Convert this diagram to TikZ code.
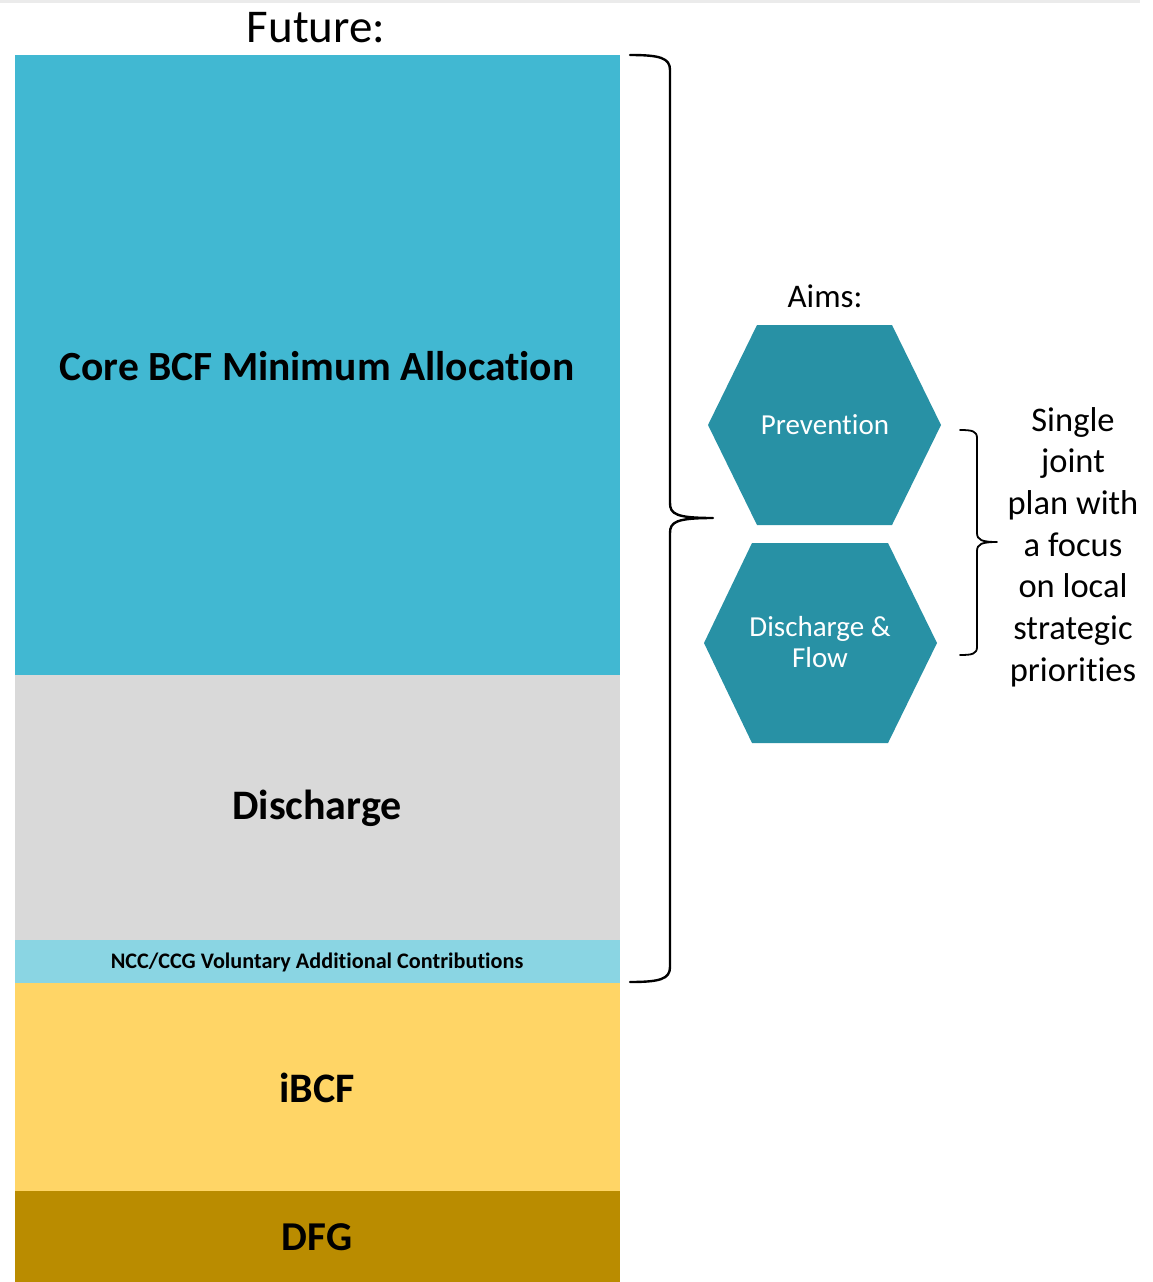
\documentclass[tikz,border=0pt]{standalone}
\usepackage{fontspec}
\setmainfont{Carlito}[Ligatures=NoCommon]
\definecolor{coreblue}{HTML}{41B8D2}
\definecolor{discgray}{HTML}{D9D9D9}
\definecolor{nccblue}{HTML}{8AD5E3}
\definecolor{ibcfyel}{HTML}{FFD566}
\definecolor{dfggold}{HTML}{BA8C00}
\definecolor{hexteal}{HTML}{2891A5}
\definecolor{shadowgray}{HTML}{EBEBEB}
\tikzset{
  bandlabel/.style={text=black, inner sep=0pt},
  hexlabel/.style={text=white, align=center, font=\fontsize{29}{31}\selectfont, inner sep=0pt},
  bracepath/.style={draw=black, line width=2.4pt, line cap=round, line join=round},
  sidetext/.style={align=center, font=\fontsize{34.5}{41.7}\selectfont, inner sep=0pt}
}
\begin{document}
\begin{tikzpicture}[x=1pt, y=-1pt]
\useasboundingbox (0,0) rectangle (1153,1282);
\fill[white] (0,0) rectangle (1153,1282);
\fill[shadowgray] (0,0) rectangle (1140,3);

% stacked bands
\fill[coreblue] (15,55) rectangle (620,675);
\fill[discgray] (15,675) rectangle (620,940);
\fill[nccblue] (15,940) rectangle (620,983);
\fill[ibcfyel] (15,983) rectangle (620,1191);
\fill[dfggold] (15,1191) rectangle (620,1282);

\node[font=\fontsize{47}{52}\selectfont, inner sep=0pt] (future) at (316,28) {Future:};
\node[bandlabel, font=\bfseries\fontsize{41.5}{46}\selectfont] (core) at (317,366) {Core BCF Minimum Allocation};
\node[bandlabel, font=\bfseries\fontsize{42}{46}\selectfont] (disc) at (317,808) {Discharge};
\node[bandlabel, font=\bfseries\fontsize{22.2}{25}\selectfont] (ncc) at (317,962) {NCC/CCG Voluntary Additional Contributions};
\node[bandlabel, font=\bfseries\fontsize{42}{46}\selectfont] (ibcf) at (317,1088) {iBCF};
\node[bandlabel, font=\bfseries\fontsize{41}{46}\selectfont] (dfg) at (317,1237) {DFG};

% big brace
\coordinate (bbtop) at (630,55);
\coordinate (bbtip) at (713,518);
\coordinate (bbbot) at (630,982);
\draw[bracepath] (bbtop) .. controls (660,55) and (670,58) .. (670,70)
  -- (670,503) .. controls (670,514) and (676,518) .. (bbtip)
  .. controls (676,518) and (670,522) .. (670,533)
  -- (670,967) .. controls (670,979) and (660,982) .. (bbbot);

% aims
\node[font=\fontsize{33}{36}\selectfont, inner sep=0pt] (aims) at (825,296) {Aims:};

\fill[hexteal] (757,325) -- (892,325) -- (941,425) -- (892,525) -- (757,525) -- (708,425) -- cycle;
\node[hexlabel] (prev) at (825,425) {Prevention};

\fill[hexteal] (752,543) -- (888,543) -- (937,643) -- (888,743) -- (752,743) -- (704,643) -- cycle;
\node[hexlabel] (dflow) at (820,642) {Discharge \&\\Flow};

% small brace
\coordinate (sbtop) at (960,430);
\coordinate (sbtip) at (997,542);
\coordinate (sbbot) at (960,655);
\draw[bracepath, line width=1.8pt] (sbtop) .. controls (972,430) and (977,431) .. (977,438)
  -- (977,533) .. controls (977,540) and (982,542) .. (sbtip)
  .. controls (982,542) and (977,544) .. (977,551)
  -- (977,647) .. controls (977,654) and (972,655) .. (sbbot);

\node[sidetext] (plan) at (1073,547) {Single\\joint\\plan with\\a focus\\on local\\strategic\\priorities};
\end{tikzpicture}
\end{document}
